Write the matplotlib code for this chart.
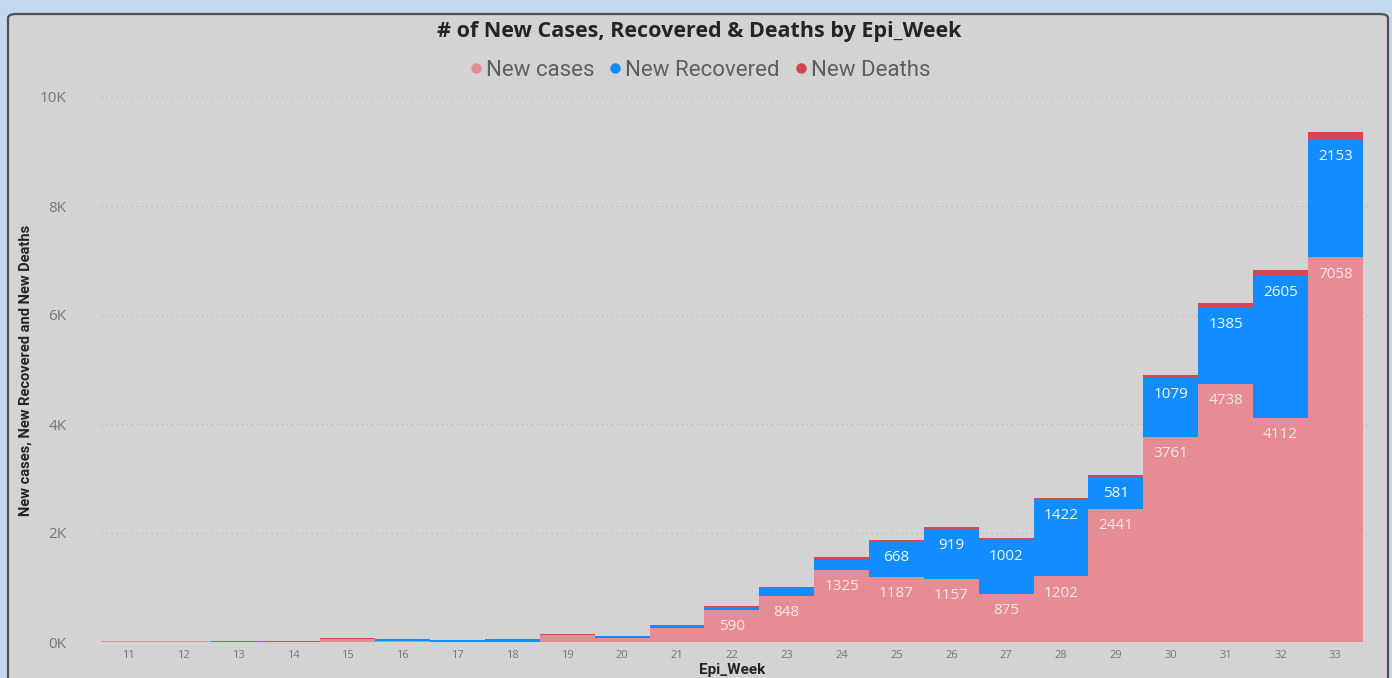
import matplotlib
matplotlib.use("Agg")
import matplotlib.pyplot as plt
from matplotlib.patches import FancyBboxPatch
from matplotlib.lines import Line2D
from matplotlib.ticker import FuncFormatter

weeks = list(range(11, 34))
new_cases = [15, 15, 0, 5, 50, 15, 5, 5, 120, 80, 250, 590, 848, 1325, 1187, 1157,
             875, 1202, 2441, 3761, 4738, 4112, 7058]
new_recovered = [0, 0, 20, 0, 0, 35, 25, 50, 0, 35, 55, 50, 140, 180, 668, 919,
                 1002, 1422, 581, 1079, 1385, 2605, 2153]
new_deaths = [0, 0, 0, 15, 20, 0, 0, 0, 25, 0, 5, 20, 25, 50, 25, 25,
              25, 20, 50, 50, 100, 110, 150]
series_names = ["New cases", "New Recovered", "New Deaths"]
colors = ["#E68C94", "#118DFF", "#D64550"]
label_colors = ["#FCE6E8", "#F2F8FF"]
title = "# of New Cases, Recovered & Deaths by Epi_Week"
y_label = "New cases, New Recovered and New Deaths"
x_label = "Epi_Week"

W, H = 1392, 678
fig = plt.figure(figsize=(W / 100, H / 100), dpi=100)
fig.patch.set_facecolor("#C5D9EE")

panel = FancyBboxPatch((8 / W, -20 / H), (1380 / W), (H - 14 + 20) / H,
                       boxstyle="round,pad=0,rounding_size=0.006",
                       transform=fig.transFigure, facecolor="#D3D3D3",
                       edgecolor="#505050", linewidth=1.6, zorder=-5)
fig.patches.append(panel)

left, right = 101, 1372
bottom, top = 642, 97
ax = fig.add_axes([left / W, 1 - bottom / H, (right - left) / W, (bottom - top) / H])
ax.set_facecolor("none")
ax.set_zorder(2)

ax.set_xlim(10.5, 10.5 + (right - left) / 54.86)
ax.set_ylim(0, 10000)

base = [0] * len(weeks)
for vals, col in zip([new_cases, new_recovered, new_deaths], colors):
    ax.bar(weeks, vals, width=1.0, bottom=base, color=col, linewidth=0, zorder=3)
    base = [b + v for b, v in zip(base, vals)]

# data labels (inside end)
base = [0] * len(weeks)
for vals, lc in zip([new_cases, new_recovered], label_colors):
    for w, b, v in zip(weeks, base, vals):
        if v >= 500:
            ax.annotate(str(v), (w, b + v), xytext=(0, -12), textcoords="offset points",
                        ha="center", va="center", color=lc, fontsize=11,
                        family="Open Sans", zorder=5)
    base = [b + v for b, v in zip(base, vals)]

ax.set_yticks(range(0, 10001, 2000))
ax.yaxis.set_major_formatter(FuncFormatter(lambda v, p: f"{int(v/1000)}K"))
ax.set_xticks(weeks)
ax.tick_params(axis="both", length=0)
ax.tick_params(axis="y", labelsize=11, labelcolor="#777777", pad=25)
ax.tick_params(axis="x", labelsize=8, labelcolor="#777777", pad=6)
for t in ax.get_yticklabels():
    t.set_family("Open Sans")
for t in ax.get_xticklabels():
    t.set_family("Open Sans")
ax.grid(axis="y", color="#BBBBBB", linestyle=(0, (1, 3)), linewidth=0.9, zorder=0)
for s in ax.spines.values():
    s.set_visible(False)

fig.text(26 / W, 1 - 370 / H, y_label, rotation=90, ha="center", va="center",
         fontsize=10.5, fontweight="bold", color="#252423", family="Roboto")
fig.text(732 / W, 1 - 670 / H, x_label, ha="center", va="center",
         fontsize=11, fontweight="bold", color="#252423", family="Roboto")

fig.text(699 / W, 1 - 32 / H, title, ha="center", va="center", fontsize=15.5,
         fontweight="bold", color="#252423", family="Open Sans")

handles = [Line2D([], [], marker="o", linestyle="none", markersize=6.5,
                  markerfacecolor=c, markeredgecolor=c) for c in colors]
fig.legend(handles, series_names, loc="center", bbox_to_anchor=(698 / W, 1 - 70 / H),
           ncol=3, frameon=False, handletextpad=0.0, columnspacing=0.5,
           prop={"family": "Roboto", "size": 16}, labelcolor="#605E5C",
           handlelength=0.9)

fig.savefig("out.png", dpi=100, facecolor=fig.get_facecolor())
